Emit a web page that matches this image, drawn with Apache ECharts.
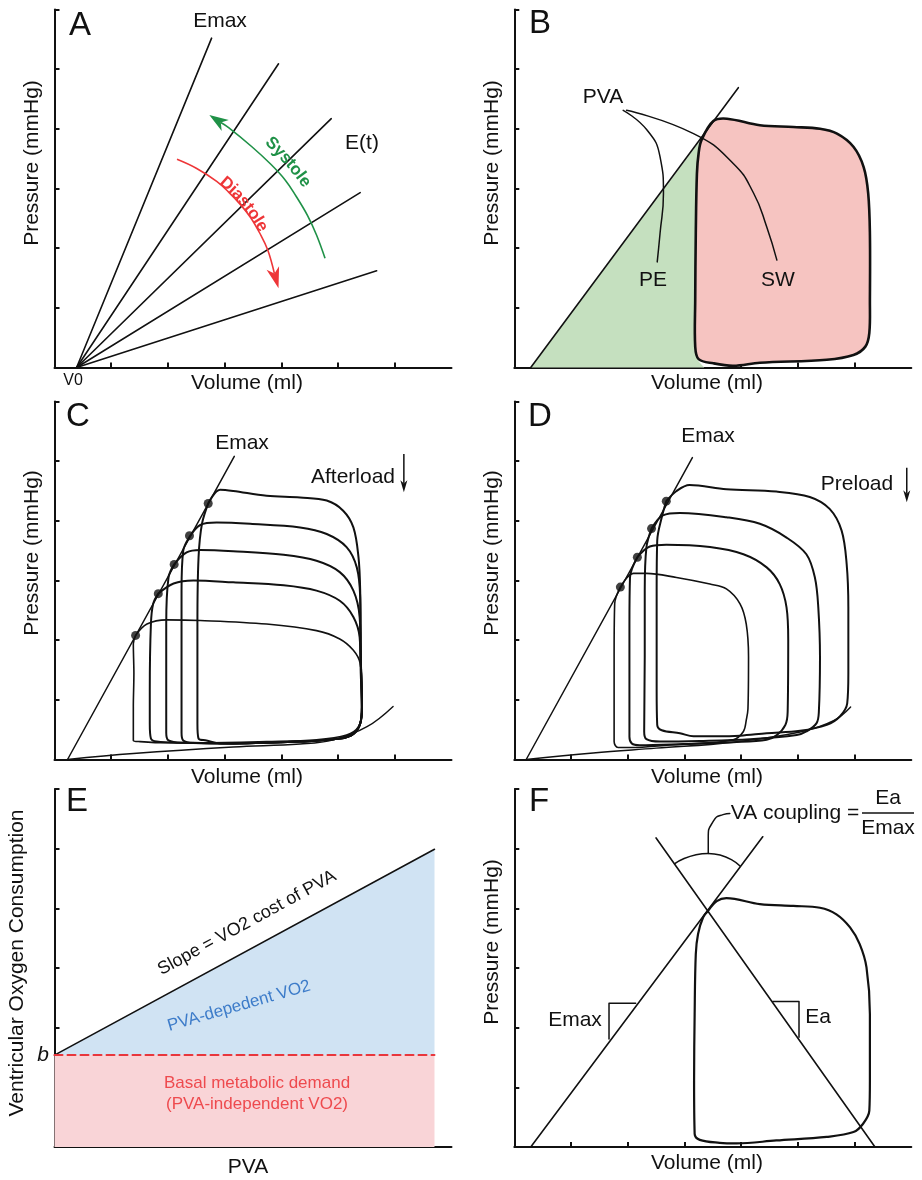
<!DOCTYPE html>
<html><head><meta charset="utf-8">
<script src="https://cdn.jsdelivr.net/npm/echarts@6/dist/echarts.min.js"></script>
<style>html,body{margin:0;padding:0;background:#fff}#c{width:922px;height:1180px}</style>
</head><body><div id="c"></div>
<script>
// ---------------- DATA (axis units: volume 0-7, pressure 0-6) ----------------
const xTicks = [1, 2, 3, 4, 5, 6];
const yTicks = [1, 2, 3, 4, 5, 6];

// Panel A: time-varying elastance lines from V0
const aV0 = [0.39, 0];
const aLineEnds = [[2.77, 5.52], [3.95, 5.09], [4.88, 4.17], [5.39, 2.93], [5.68, 1.62]];
const aSystoleArc = [[4.77, 1.83], [4.62, 2.22], [4.46, 2.55], [4.26, 2.87], [4.07, 3.14], [3.81, 3.41], [3.48, 3.70], [3.07, 4.02], [2.73, 4.23]];
const aDiastoleArc = [[2.16, 3.49], [2.50, 3.34], [2.86, 3.12], [3.07, 2.94], [3.28, 2.73], [3.46, 2.51], [3.62, 2.25], [3.76, 1.97], [3.95, 1.33]];

// Panel B: PVA = PE + SW
const bEmax = [[0.29, 0], [3.95, 4.69]];
const bLoop = [[3.30, 3.81], [3.51, 4.13], [3.75, 4.17], [4.33, 4.06], [4.92, 4.03], [5.39, 4.00], [5.69, 3.92],
  [5.98, 3.70], [6.16, 3.36], [6.24, 2.92], [6.27, 2.25], [6.27, 1.13], [6.26, 0.58], [6.19, 0.35], [5.98, 0.21],
  [5.51, 0.13], [4.33, 0.08], [3.86, 0.03], [3.51, 0.07], [3.25, 0.14], [3.19, 0.35], [3.19, 1.13], [3.20, 2.25],
  [3.22, 3.25], [3.25, 3.59]];
const bPE = [[0.29, 0], [3.33, 3.87], [3.25, 3.59], [3.22, 3.25], [3.20, 2.25], [3.19, 1.13], [3.19, 0.35], [3.25, 0.10], [3.35, 0]];
const bPeLeader = [[1.92, 4.31], [2.34, 3.98], [2.57, 3.53], [2.63, 2.92], [2.57, 2.25], [2.52, 1.77]];
const bSwLeader = [[1.98, 4.31], [3.16, 3.92], [3.86, 3.42], [4.22, 2.92], [4.45, 2.36], [4.63, 1.80]];

// Panel C: afterload reduction
const cEmax = [[0.23, 0], [3.17, 5.08]];
const cEsp = [[2.71, 4.29], [2.38, 3.75], [2.11, 3.27], [1.83, 2.78], [1.43, 2.08]];
const cLoops = [
  [[2.71,4.29],[2.92,4.52],[3.15,4.50],[3.74,4.42],[4.33,4.39],[4.80,4.34],[5.09,4.17],[5.27,3.89],[5.36,3.39],[5.39,2.83],[5.40,1.72],[5.42,0.88],[5.39,0.60],[5.27,0.43],[5.03,0.35],[4.33,0.30],[3.15,0.27],[2.92,0.27],[2.68,0.32],[2.54,0.35],[2.52,0.60],[2.52,2.27],[2.54,3.39],[2.60,3.95],[2.71,4.29]],
  [[2.38,3.73],[2.57,3.93],[2.86,3.97],[3.45,3.95],[4.33,3.89],[4.80,3.78],[5.15,3.56],[5.33,3.22],[5.39,2.72],[5.40,1.72],[5.42,0.88],[5.39,0.60],[5.27,0.43],[5.03,0.35],[4.33,0.30],[3.15,0.27],[2.45,0.28],[2.27,0.32],[2.24,0.45],[2.24,1.16],[2.24,2.83],[2.27,3.50],[2.38,3.73]],
  [[2.11,3.27],[2.33,3.47],[2.57,3.51],[3.15,3.49],[4.04,3.43],[4.62,3.33],[5.03,3.14],[5.27,2.83],[5.38,2.39],[5.40,1.72],[5.42,0.88],[5.39,0.60],[5.27,0.43],[5.03,0.35],[4.33,0.30],[3.15,0.27],[2.27,0.28],[2.01,0.32],[1.97,0.45],[1.97,1.16],[1.97,2.27],[2.01,3.05],[2.11,3.27]],
  [[1.83,2.78],[2.10,2.95],[2.45,3.00],[3.15,2.97],[4.04,2.92],[4.62,2.83],[5.03,2.66],[5.27,2.39],[5.38,2.05],[5.40,1.44],[5.42,0.88],[5.39,0.60],[5.27,0.43],[5.03,0.35],[4.33,0.30],[3.15,0.27],[2.27,0.28],[1.80,0.30],[1.70,0.35],[1.68,0.60],[1.68,1.16],[1.70,2.27],[1.74,2.61],[1.83,2.78]],
  [[1.43,2.08],[1.63,2.27],[1.98,2.34],[2.57,2.33],[3.74,2.27],[4.62,2.16],[5.03,2.02],[5.27,1.83],[5.39,1.61],[5.42,1.16],[5.42,0.82],[5.36,0.55],[5.15,0.41],[4.62,0.33],[3.74,0.30],[2.57,0.28],[1.98,0.28],[1.51,0.30],[1.39,0.32],[1.39,0.88],[1.40,1.44],[1.39,1.94],[1.43,2.08]]
];
const cEdpvr = [[0.23, 0], [1.39, 0.10], [3.15, 0.21], [4.33, 0.26], [4.92, 0.33], [5.51, 0.55], [5.97, 0.89]];
const cArrow = [[6.16, 5.12], [6.16, 4.48]];

// Panel D: preload reduction
const dEmax = [[0.21, 0], [3.14, 5.06]];
const dEsp = [[2.68, 4.33], [2.42, 3.87], [2.17, 3.39], [1.87, 2.89]];
const dLoops = [
  [[2.68,4.33],[2.86,4.50],[3.09,4.60],[3.74,4.53],[4.62,4.49],[5.21,4.40],[5.56,4.20],[5.77,3.84],[5.86,3.28],[5.89,2.55],[5.89,1.44],[5.87,0.94],[5.74,0.72],[5.51,0.58],[5.04,0.48],[4.45,0.44],[3.98,0.40],[3.57,0.39],[3.16,0.39],[2.92,0.44],[2.60,0.49],[2.52,0.58],[2.51,1.16],[2.51,2.83],[2.52,3.67],[2.60,4.06],[2.68,4.33]],
  [[2.42,3.87],[2.62,4.09],[2.92,4.13],[3.74,4.06],[4.33,3.95],[4.80,3.72],[5.15,3.44],[5.30,3.05],[5.36,2.55],[5.39,1.72],[5.37,0.80],[5.33,0.61],[5.15,0.47],[4.98,0.41],[4.16,0.34],[3.27,0.31],[2.57,0.30],[2.33,0.34],[2.29,0.47],[2.30,1.72],[2.30,2.83],[2.33,3.56],[2.42,3.87]],
  [[2.17,3.39],[2.39,3.57],[2.68,3.60],[3.45,3.56],[4.04,3.44],[4.45,3.22],[4.68,2.94],[4.80,2.55],[4.83,2.00],[4.82,0.80],[4.78,0.58],[4.63,0.41],[4.45,0.33],[3.86,0.29],[2.98,0.26],[2.21,0.24],[2.07,0.27],[2.03,0.38],[2.03,1.16],[2.03,2.27],[2.04,3.05],[2.17,3.39]],
  [[1.87,2.89],[2.10,3.12],[2.33,3.12],[2.86,3.05],[3.45,2.94],[3.74,2.86],[3.98,2.61],[4.09,2.27],[4.13,1.72],[4.12,0.85],[4.09,0.66],[4.04,0.47],[3.86,0.33],[3.27,0.27],[2.69,0.24],[2.10,0.20],[1.83,0.20],[1.76,0.30],[1.76,0.88],[1.76,1.72],[1.77,2.61],[1.87,2.89]]
];
const dEdpvr = [[0.21, 0], [1.39, 0.11], [2.50, 0.19], [3.86, 0.29], [5.04, 0.46], [5.63, 0.65], [5.93, 0.88]];
const dArrow = [[6.92, 4.89], [6.92, 4.31]];

// Panel E: VO2 vs PVA
const eB = 1.54;          // basal intercept b
const ePvaMax = 6.70;
const eVo2AtMax = 4.99;

// Panel F: VA coupling
const fEmax = [[0.29, 0], [4.38, 5.20]];
const fEa = [[2.50, 5.18], [6.36, 0]];
const fLoop = [[3.42,3.96],[3.57,4.12],[3.74,4.17],[4.33,4.07],[4.92,4.04],[5.39,4.01],[5.68,3.90],[5.92,3.68],
  [6.09,3.40],[6.21,3.01],[6.27,2.23],[6.27,1.11],[6.26,0.61],[6.15,0.39],[5.98,0.25],[5.51,0.17],[4.62,0.11],
  [3.92,0.06],[3.62,0.07],[3.27,0.12],[3.18,0.22],[3.17,1.11],[3.18,2.23],[3.20,3.23],[3.24,3.57],[3.33,3.85],[3.42,3.96]];
const fEmaxSlope = [[1.67, 1.81], [1.67, 2.41], [2.14, 2.41]];
const fEaSlope = [[4.56, 2.44], [5.02, 2.44], [5.02, 1.84]];
const fAngleArc = [[2.83, 4.75], [3.42, 4.92], [3.98, 4.71]];
const fLeader = [[3.42, 4.92], [3.42, 5.18], [3.51, 5.46], [3.68, 5.57], [3.80, 5.59]];

// ---------------- LAYOUT ----------------
const FONT = '"Liberation Sans", Arial, Helvetica, sans-serif';
const GW = 397, GH = 358;
const grids = [
  { left: 54.5, top: 9.5 }, { left: 514.3, top: 9.5 },
  { left: 54.5, top: 401.5 }, { left: 514.3, top: 401.5 },
  { left: 54.5, top: 789 }, { left: 514.3, top: 789 }
].map(g => Object.assign({ width: GW, height: GH, outerBoundsMode: 'none', containLabel: false }, g));

const axisCommon = {
  type: 'value', min: 0,
  axisLine: { show: true, onZero: false, lineStyle: { color: '#111', width: 2 } },
  axisLabel: { show: false }, splitLine: { show: false }
};
const xAxes = grids.map((g, i) => Object.assign({}, axisCommon, {
  gridIndex: i, max: 7,
  axisTick: { show: true, inside: true, length: 5, customValues: xTicks, lineStyle: { color: '#111', width: 2 } }
}));
const yAxes = grids.map((g, i) => Object.assign({}, axisCommon, {
  gridIndex: i, max: 6,
  axisTick: { show: true, inside: true, length: 5, customValues: yTicks, lineStyle: { color: '#111', width: 2 } }
}));

// ---------------- HELPERS ----------------
function line(gi, pts, width, opt) {
  opt = opt || {};
  return {
    type: 'line', xAxisIndex: gi, yAxisIndex: gi, data: pts, showSymbol: false, symbol: 'none',
    smooth: opt.smooth || 0, silent: true, animation: false, z: opt.z || 3,
    lineStyle: { color: opt.color || '#111', width: width, type: opt.type || 'solid', cap: 'round', join: 'round' }
  };
}
function poly(gi, pts, fill, stroke, width, smooth, z) {
  return {
    type: 'custom', xAxisIndex: gi, yAxisIndex: gi, data: [pts[0]], silent: true, animation: false, z: z || 1,
    renderItem: (p, api) => ({
      type: 'polygon',
      shape: { points: pts.map(q => api.coord(q)), smooth: smooth || 0 },
      style: { fill: fill, stroke: stroke || null, lineWidth: width || 0, lineJoin: 'round' }
    })
  };
}
function arrow(gi, pts, color, width, headLen, headW, smooth) {
  return {
    type: 'custom', xAxisIndex: gi, yAxisIndex: gi, data: [pts[0]], silent: true, animation: false, z: 4,
    renderItem: (p, api) => {
      const c = pts.map(q => api.coord(q));
      const tip = c[c.length - 1], prev = c[c.length - 2];
      let dx = tip[0] - prev[0], dy = tip[1] - prev[1];
      const L = Math.hypot(dx, dy); dx /= L; dy /= L;
      const nx = -dy, ny = dx;
      const bx = tip[0] - dx * headLen, by = tip[1] - dy * headLen;
      const notch = [tip[0] - dx * headLen * 0.72, tip[1] - dy * headLen * 0.72];
      const body = c.slice(0, -1).concat([notch]);
      return {
        type: 'group', children: [
          { type: 'polyline', shape: { points: body, smooth: smooth || 0 }, style: { stroke: color, lineWidth: width, fill: null } },
          { type: 'polygon', shape: { points: [tip, [bx + nx * headW / 2, by + ny * headW / 2], notch, [bx - nx * headW / 2, by - ny * headW / 2]] },
            style: { fill: color } }
        ]
      };
    }
  };
}
function dots(gi, pts) {
  return { type: 'scatter', xAxisIndex: gi, yAxisIndex: gi, data: pts, symbol: 'circle', symbolSize: 9,
    itemStyle: { color: '#111' }, silent: true, animation: false, z: 6 };
}
function txt(x, y, s, size, o) {
  o = o || {};
  return { type: 'text', x: x, y: y, rotation: o.rot || 0, z: 100, silent: true,
    style: { text: s, font: (o.italic ? 'italic ' : '') + (o.bold ? 'bold ' : '') + size + 'px ' + FONT,
      fill: o.color || '#111', textAlign: o.align || 'center', textVerticalAlign: 'middle' } };
}
// text set letter by letter along a circular arc (clockwise reading direction)
const measureCtx = document.createElement('canvas').getContext('2d');
function arcText(str, cx, cy, r, midDeg, size, color) {
  measureCtx.font = 'bold ' + size + 'px ' + FONT;
  const chars = str.split('');
  const ws = chars.map(ch => measureCtx.measureText(ch).width);
  const total = ws.reduce((a, b) => a + b, 0);
  let s = -total / 2;
  const mid = midDeg * Math.PI / 180;
  return chars.map((ch, i) => {
    const m = s + ws[i] / 2; s += ws[i];
    const th = mid - m / r;
    return txt(cx + r * Math.cos(th), cy - r * Math.sin(th), ch, size, { bold: true, color: color, rot: -(Math.PI / 2 - th) });
  });
}

// ---------------- SERIES ----------------
const series = [];
// A
aLineEnds.forEach(e => series.push(line(0, [aV0, e], 1.6)));
series.push(arrow(0, aSystoleArc, '#1f9147', 1.6, 19, 13, 0.4));
series.push(arrow(0, aDiastoleArc, '#ee3638', 1.6, 21, 13, 0.4));
// B
series.push(poly(1, bPE, '#c5e0bf', null, 0, 0, 1));
series.push(poly(1, bLoop, '#f6c4c1', '#111', 2.6, 0.35, 2));
series.push(line(1, bEmax, 1.6, { z: 3 }));
series.push(line(1, bPeLeader, 1.5, { smooth: 0.5 }));
series.push(line(1, bSwLeader, 1.5, { smooth: 0.5 }));
// C
series.push(line(2, cEmax, 1.5));
cLoops.forEach((l, i) => series.push(line(2, l, i === 4 ? 1.6 : 2, { smooth: 0.35 })));
series.push(line(2, cEdpvr, 1.4, { smooth: 0.4 }));
series.push(dots(2, cEsp));
series.push(arrow(2, cArrow, '#111', 1.5, 12, 7, 0));
// D
series.push(line(3, dEmax, 1.5));
dLoops.forEach((l, i) => series.push(line(3, l, i === 3 ? 1.6 : 2, { smooth: 0.35 })));
series.push(line(3, dEdpvr, 1.4, { smooth: 0.4 }));
series.push(dots(3, dEsp));
series.push(arrow(3, dArrow, '#111', 1.5, 12, 7, 0));
// E
series.push(poly(4, [[0, 0], [0, eB], [ePvaMax, eB], [ePvaMax, 0]], '#f9d4d7', null, 0, 0, 1));
series.push(poly(4, [[0, eB], [ePvaMax, eVo2AtMax], [ePvaMax, eB]], '#d0e3f3', null, 0, 0, 1));
series.push(line(4, [[0, eB], [ePvaMax, eVo2AtMax]], 1.6));
series.push(line(4, [[0, eB], [ePvaMax, eB]], 2, { color: '#e8363c', type: [8, 5] }));
// F
series.push(line(5, fEmax, 1.6));
series.push(line(5, fEa, 1.6));
series.push(line(5, fLoop, 2.2, { smooth: 0.35 }));
series.push(line(5, fEmaxSlope, 1.5));
series.push(line(5, fEaSlope, 1.5));
series.push(line(5, fAngleArc, 1.5, { smooth: 0.6 }));
series.push(line(5, fLeader, 1.5, { smooth: 0.6 }));

// ---------------- TEXT ----------------
const graphic = [
  // A
  txt(80, 26, 'A', 33), txt(220, 21, 'Emax', 21), txt(362, 143, 'E(t)', 21), txt(73, 381, 'V0', 16),
  txt(247, 383, 'Volume (ml)', 21), txt(32, 163, 'Pressure (mmHg)', 21, { rot: Math.PI / 2 }),
  ...arcText('Systole', 103.6, 322, 245, 40.9, 17, '#1f9147'),
  ...arcText('Diastole', 119.8, 307.2, 163, 39.7, 17, '#ee3638'),
  // B
  txt(540, 24, 'B', 33), txt(603, 97, 'PVA', 21), txt(653, 280, 'PE', 21), txt(778, 280, 'SW', 21),
  txt(707, 383, 'Volume (ml)', 21), txt(492, 163, 'Pressure (mmHg)', 21, { rot: Math.PI / 2 }),
  // C
  txt(78, 417, 'C', 33), txt(242, 443, 'Emax', 21), txt(353, 477, 'Afterload', 21),
  txt(247, 777, 'Volume (ml)', 21), txt(32, 553, 'Pressure (mmHg)', 21, { rot: Math.PI / 2 }),
  // D
  txt(540, 417, 'D', 33), txt(708, 436, 'Emax', 21), txt(857, 484, 'Preload', 21),
  txt(707, 777, 'Volume (ml)', 21), txt(492, 553, 'Pressure (mmHg)', 21, { rot: Math.PI / 2 }),
  // E
  txt(77, 802, 'E', 33), txt(43, 1055, 'b', 21, { italic: true }),
  txt(17, 963, 'Ventricular Oxygen Consumption', 21, { rot: Math.PI / 2 }),
  txt(248, 1167, 'PVA', 21),
  txt(247, 923, 'Slope = VO2 cost of PVA', 18, { rot: 0.5 }),
  txt(239, 1006, 'PVA-depedent VO2', 17, { rot: 0.28, color: '#3d7cc9' }),
  txt(257, 1083, 'Basal metabolic demand', 17, { color: '#ee4a4e' }),
  txt(257, 1104, '(PVA-independent VO2)', 17, { color: '#ee4a4e' }),
  // F
  txt(539, 802, 'F', 33), txt(795, 813, 'VA coupling =', 21),
  txt(888, 798, 'Ea', 21), txt(888, 828, 'Emax', 21),
  { type: 'line', z: 100, silent: true, shape: { x1: 862, y1: 813, x2: 914, y2: 813 }, style: { stroke: '#111', lineWidth: 1.5 } },
  txt(575, 1020, 'Emax', 21), txt(818, 1017, 'Ea', 21),
  txt(707, 1163, 'Volume (ml)', 21), txt(492, 942, 'Pressure (mmHg)', 21, { rot: Math.PI / 2 })
];

const chart = echarts.init(document.getElementById('c'), null, { renderer: 'canvas' });
chart.setOption({
  backgroundColor: '#fff', animation: false,
  grid: grids, xAxis: xAxes, yAxis: yAxes, series: series, graphic: graphic
});
</script></body></html>
